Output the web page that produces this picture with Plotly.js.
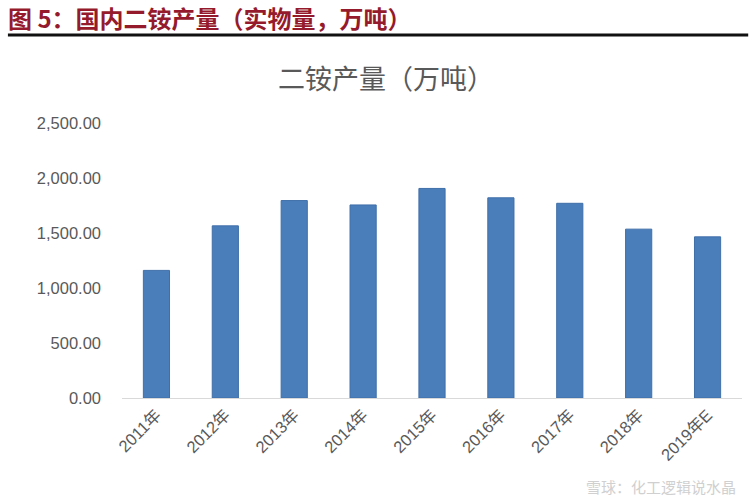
<!DOCTYPE html>
<html>
<head>
<meta charset="utf-8">
<script src="https://cdn.plot.ly/plotly-3.0.1.min.js"></script>
<style>html,body{margin:0;padding:0;background:#fff;}#chart{width:750px;height:500px;}</style>
</head>
<body>
<div id="chart"></div>
<script>
var categories = ["2011年","2012年","2013年","2014年","2015年","2016年","2017年","2018年","2019年E"];
var output = [1160, 1565, 1795, 1755, 1905, 1820, 1770, 1535, 1465];
var yTicks = [0, 500, 1000, 1500, 2000, 2500];

var trace = {
  type: "bar",
  x: categories,
  y: output,
  marker: {color: "#4a7ebb", line: {color: "#3f6fa8", width: 1}},
  hoverinfo: "x+y"
};

var layout = {
  width: 750, height: 500,
  margin: {l: 122, r: 8, t: 123, b: 102},
  paper_bgcolor: "#fff", plot_bgcolor: "#fff",
  showlegend: false,
  bargap: 0.62,
  font: {family: "Liberation Sans, Arial, sans-serif", color: "#595959"},
  xaxis: {
    type: "category",
    tickangle: -45,
    showline: true, linecolor: "#d9d9d9", linewidth: 1,
    showgrid: false, ticks: "",
    tickfont: {size: 16.5, color: "#595959", family: "Liberation Sans, 'Noto Sans CJK SC', sans-serif"}
  },
  yaxis: {
    range: [0, 2500],
    tickvals: yTicks,
    tickformat: ",.2f",
    showgrid: false, zeroline: false, showline: false, ticks: "",
    ticklabelstandoff: 20,
    tickfont: {size: 16.5, color: "#595959"}
  },
  annotations: [
    {text: "<b>图 5：国内二铵产量（实物量，万吨）</b>", xref: "paper", yref: "paper",
     x: 0, xanchor: "left", xshift: -116, y: 1, yanchor: "middle", yshift: 106,
     showarrow: false, font: {size: 24, color: "#951b2c", family: "'Noto Sans CJK SC', sans-serif"}},
    {text: "二铵产量（万吨）", xref: "paper", yref: "paper",
     x: 0.426, xanchor: "center", y: 1, yanchor: "middle", yshift: 46,
     showarrow: false, font: {size: 27, color: "#595959", family: "'Noto Sans CJK SC', sans-serif"}},
    {text: "雪球：化工逻辑说水晶", xref: "paper", yref: "paper",
     x: 1, xanchor: "right", xshift: -4, y: 0, yanchor: "middle", yshift: -88,
     showarrow: false, font: {size: 15, color: "#d0d0d0", family: "'Noto Sans CJK SC', sans-serif"}}
  ],
  shapes: [
    {type: "line", xref: "paper", yref: "paper", x0: -0.184, x1: 1.01, y0: 1, y1: 1,
     line: {color: "#111", width: 3}}
  ]
};
// header rule at pixel y=35: plot spans y 123..398 (height 275)
layout.shapes[0].y0 = (398 - 35) / 275;
layout.shapes[0].y1 = (398 - 35) / 275;

Plotly.newPlot("chart", [trace], layout, {displayModeBar: false, staticPlot: true});
</script>
</body>
</html>
